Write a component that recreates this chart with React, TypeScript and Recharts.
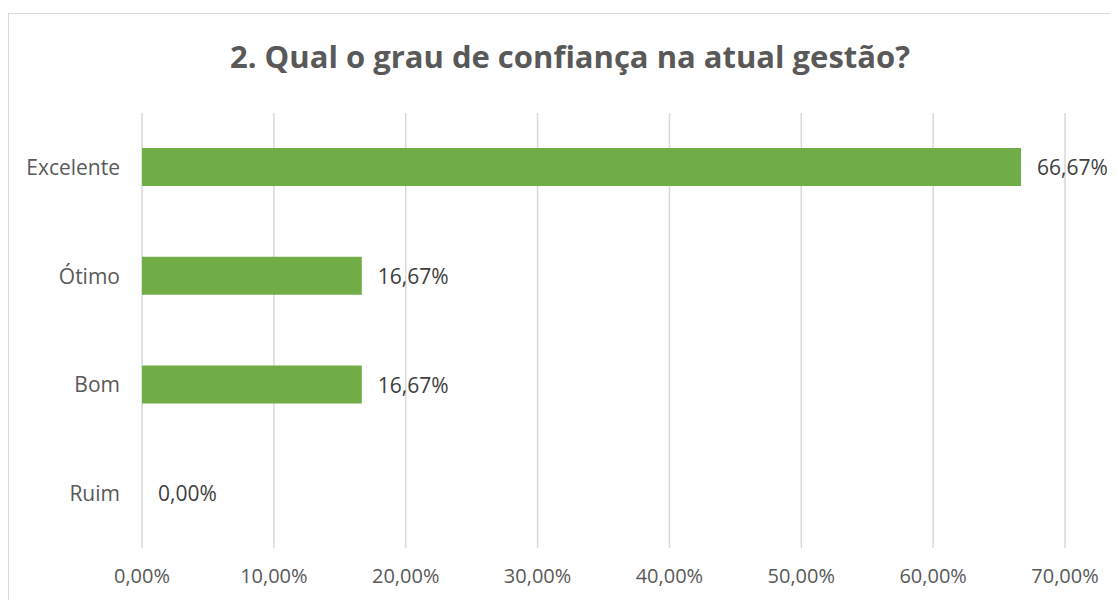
import { BarChart, Bar, XAxis, YAxis, CartesianGrid, LabelList } from 'recharts';

const categories = ['Excelente', 'Ótimo', 'Bom', 'Ruim'];
const values = [66.67, 16.67, 16.67, 0];
const xTicks = [0, 10, 20, 30, 40, 50, 60, 70];

const data = categories.map((name, i) => ({ name, value: values[i] }));

const FONT = '"Open Sans", sans-serif';
const fmt = (v: number) => v.toFixed(2).replace('.', ',') + '%';

function ValueLabel(props: any) {
  const { x, y, width, height, value } = props;
  if (x == null || y == null) return null;
  return (
    <text
      x={Number(x) + Number(width || 0) + 16}
      y={Number(y) + Number(height || 0) / 2}
      dominantBaseline="central"
      fontSize={21}
      fill="#404040"
      fontFamily={FONT}
    >
      {fmt(Number(value))}
    </text>
  );
}

export default function App() {
  return (
    <div style={{ position: 'relative', width: 1110, height: 592, overflow: 'hidden', fontFamily: FONT }}>
      <div
        style={{
          position: 'absolute',
          left: 0,
          top: 5,
          width: 1200,
          height: 700,
          border: '1.5px solid #d9d9d9',
          boxSizing: 'border-box',
        }}
      />
      <div
        style={{
          position: 'absolute',
          left: 0,
          width: 1124,
          top: 27,
          textAlign: 'center',
          fontSize: 31,
          fontWeight: 700,
          color: '#595959',
        }}
      >
        2. Qual o grau de confiança na atual gestão?
      </div>
      <div style={{ position: 'absolute', left: 0, top: 0 }}>
        <BarChart
          width={1110}
          height={592}
          data={data}
          layout="vertical"
          margin={{ top: 105, right: 53, left: 0, bottom: 22 }}
        >
          <CartesianGrid horizontal={false} stroke="#d9d9d9" strokeWidth={1.5} />
          <XAxis
            type="number"
            domain={[0, 70]}
            ticks={xTicks}
            tickFormatter={fmt}
            axisLine={false}
            tickLine={false}
            height={30}
            tick={{ fontSize: 20, fill: '#595959', fontFamily: FONT }}
            tickMargin={15}
            interval={0}
          />
          <YAxis
            type="category"
            dataKey="name"
            width={134}
            axisLine={false}
            tickLine={false}
            tick={{ fontSize: 21, fill: '#595959', fontFamily: FONT }}
            tickMargin={16}
          />
          <Bar
            dataKey="value"
            fill="#70ad47"
            barSize={38}
            minPointSize={(v: number) => (v === 0 ? 0.01 : 0)}
            isAnimationActive={false}
          >
            <LabelList dataKey="value" position="right" content={<ValueLabel />} />
          </Bar>
        </BarChart>
      </div>
    </div>
  );
}
